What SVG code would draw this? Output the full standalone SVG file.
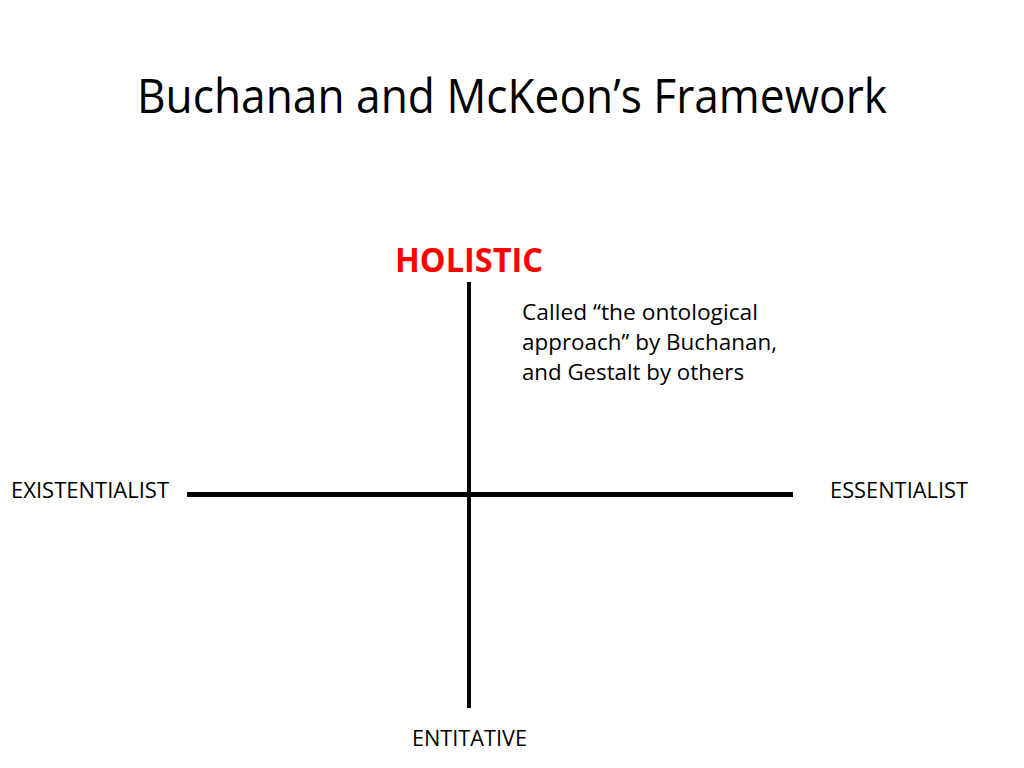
<svg xmlns="http://www.w3.org/2000/svg" width="1024" height="768" viewBox="0 0 1024 768">
<style>
text{font-family:"Open Sans","Noto Sans","Liberation Sans",sans-serif;fill:#000}
.t{font-size:48px}
.lbl{font-size:22px}
.h{font-size:34px;font-weight:bold;fill:#ff0000}
.ax{stroke:#000;fill:none}
</style>
<rect width="1024" height="768" fill="#fff"/>
<text class="t" x="137" y="113" textLength="750" lengthAdjust="spacingAndGlyphs">Buchanan and McKeon’s Framework</text>
<g id="connectors">
<line class="ax" x1="469" y1="282" x2="469" y2="708" stroke-width="4"/>
<line class="ax" x1="187" y1="494.5" x2="793" y2="494.5" stroke-width="5"/>
</g>
<g id="holistic">
<text class="h" x="395" y="272" textLength="148" lengthAdjust="spacingAndGlyphs">HOLISTIC</text>
</g>
<g id="note">
<text class="lbl" x="522" y="320" textLength="236" lengthAdjust="spacingAndGlyphs">Called “the ontological</text>
<text class="lbl" x="522" y="350" textLength="255" lengthAdjust="spacingAndGlyphs">approach” by Buchanan,</text>
<text class="lbl" x="522" y="380" textLength="222" lengthAdjust="spacingAndGlyphs">and Gestalt by others</text>
</g>
<g id="existentialist">
<text class="lbl" x="11" y="498" textLength="158" lengthAdjust="spacingAndGlyphs">EXISTENTIALIST</text>
</g>
<g id="essentialist">
<text class="lbl" x="830" y="498" textLength="138" lengthAdjust="spacingAndGlyphs">ESSENTIALIST</text>
</g>
<g id="entitative">
<text class="lbl" x="412" y="746" textLength="115" lengthAdjust="spacingAndGlyphs">ENTITATIVE</text>
</g>
</svg>
